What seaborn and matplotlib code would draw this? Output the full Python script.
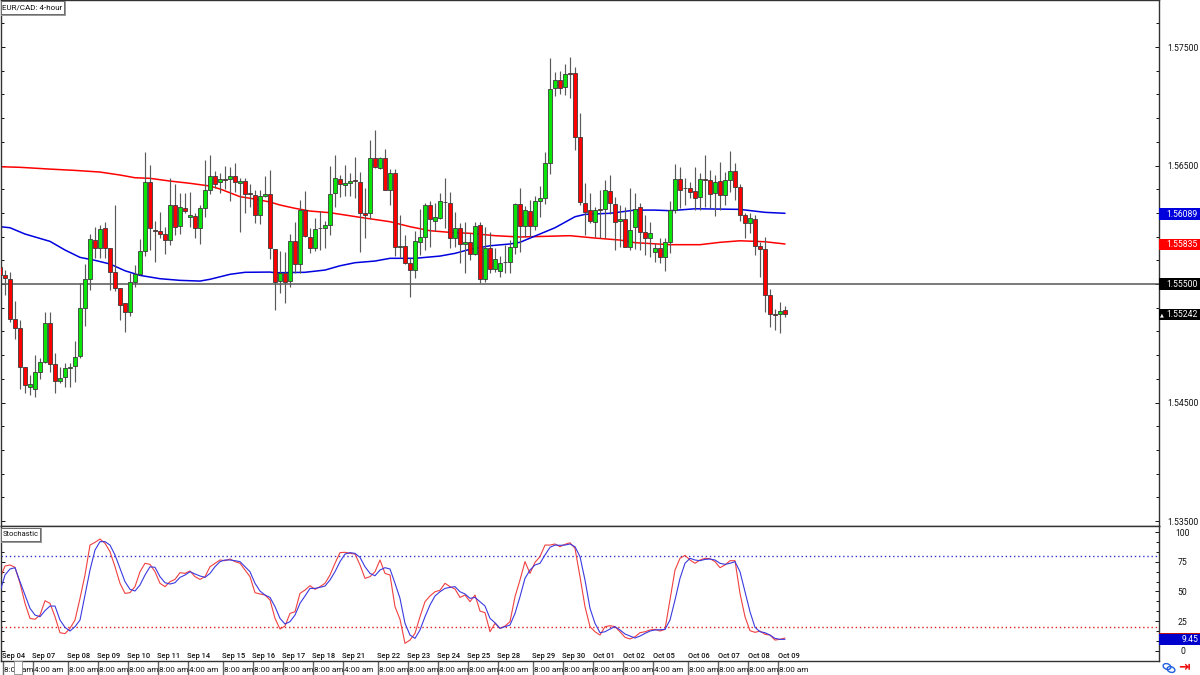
#!/usr/bin/env python3
# EUR/CAD 4-hour candles with two moving averages and a stochastic panel.

import matplotlib.pyplot as plt
import matplotlib.transforms as mtrans
from matplotlib.patches import Ellipse, Rectangle
from matplotlib.ticker import MultipleLocator
import numpy as np
import pandas as pd
import seaborn as sns

# Candles, one per 4-hour bar
opens = [
    1.55641, 1.55576, 1.55545, 1.55202, 1.55126, 1.54802, 1.54634, 1.54611, 1.54760, 1.54845,
    1.55168, 1.54822, 1.54681, 1.54712, 1.54788, 1.54808, 1.54892, 1.55300, 1.55539, 1.55871,
    1.55801, 1.55973, 1.55801, 1.55604, 1.55463, 1.55337, 1.55267, 1.55520, 1.55584, 1.55776,
    1.56364, 1.55956, 1.55947, 1.55919, 1.55871, 1.56167, 1.55989, 1.56139, 1.56063, 1.56077,
    1.55970, 1.56139, 1.56293, 1.56414, 1.56358, 1.56383, 1.56383, 1.56414, 1.56355, 1.56369,
    1.56265, 1.56254, 1.56079, 1.56243, 1.56260, 1.55793, 1.55528, 1.55596, 1.55525, 1.55860,
    1.55669, 1.56124, 1.55899, 1.55801, 1.55975, 1.55975, 1.55998, 1.56265, 1.56386, 1.56335,
    1.56350, 1.56375, 1.56364, 1.56096, 1.56096, 1.56566, 1.56476, 1.56560, 1.56293, 1.56440,
    1.55809, 1.55821, 1.55674, 1.55618, 1.55852, 1.55899, 1.56164, 1.56032, 1.56060, 1.56195,
    1.56184, 1.55885, 1.55975, 1.55838, 1.55857, 1.55753, 1.55995, 1.55539, 1.55801, 1.55624,
    1.55607, 1.55688, 1.55683, 1.55815, 1.56172, 1.55992, 1.56116, 1.55989, 1.56203, 1.56223,
    1.56524, 1.57151, 1.57222, 1.57160, 1.57278, 1.57281, 1.56738, 1.56184, 1.56127, 1.56026,
    1.56133, 1.56133, 1.56285, 1.56178, 1.56029, 1.56046, 1.55815, 1.55984, 1.56147, 1.55942,
    1.55891, 1.55770, 1.55801, 1.55731, 1.55857, 1.56124, 1.56383, 1.56313, 1.56307, 1.56282,
    1.56231, 1.56389, 1.56375, 1.56271, 1.56366, 1.56254, 1.56375, 1.56451, 1.56319, 1.56082,
    1.56012, 1.56049, 1.55821, 1.55793, 1.55404, 1.55247, 1.55244, 1.55278,
]
highs = [
    1.55674, 1.55618, 1.55604, 1.55359, 1.55196, 1.54802, 1.54732, 1.54901, 1.54873, 1.55264,
    1.55264, 1.54915, 1.54802, 1.54831, 1.54836, 1.55019, 1.55506, 1.55666, 1.55919, 1.55984,
    1.55998, 1.56026, 1.55801, 1.56167, 1.55463, 1.55337, 1.55590, 1.55660, 1.55877, 1.56611,
    1.56504, 1.56032, 1.56110, 1.55984, 1.56397, 1.56341, 1.56271, 1.56271, 1.56276, 1.56096,
    1.56167, 1.56546, 1.56589, 1.56454, 1.56440, 1.56496, 1.56490, 1.56524, 1.56392, 1.56392,
    1.56344, 1.56293, 1.56293, 1.56411, 1.56462, 1.55793, 1.55778, 1.55773, 1.55919, 1.56026,
    1.56209, 1.56285, 1.55970, 1.56054, 1.56116, 1.56032, 1.56499, 1.56589, 1.56420, 1.56504,
    1.56434, 1.56575, 1.56448, 1.56313, 1.56715, 1.56800, 1.56575, 1.56636, 1.56468, 1.56468,
    1.56082, 1.55914, 1.55717, 1.55947, 1.56130, 1.56181, 1.56203, 1.56181, 1.56271, 1.56397,
    1.56274, 1.56110, 1.56012, 1.56026, 1.55928, 1.56026, 1.56026, 1.55984, 1.55942, 1.55801,
    1.55739, 1.55829, 1.55871, 1.56186, 1.56307, 1.56161, 1.56209, 1.56245, 1.56327, 1.56617,
    1.57410, 1.57286, 1.57300, 1.57357, 1.57413, 1.57334, 1.56940, 1.56355, 1.56265, 1.56153,
    1.56293, 1.56378, 1.56420, 1.56237, 1.56167, 1.56153, 1.56307, 1.56265, 1.56186, 1.56082,
    1.56020, 1.55843, 1.55885, 1.55885, 1.56203, 1.56513, 1.56490, 1.56392, 1.56364, 1.56490,
    1.56434, 1.56589, 1.56462, 1.56420, 1.56532, 1.56448, 1.56625, 1.56518, 1.56344, 1.56096,
    1.56096, 1.56082, 1.55857, 1.55899, 1.55455, 1.55286, 1.55351, 1.55314,
]
lows = [
    1.55562, 1.55407, 1.55182, 1.55033, 1.54611, 1.54577, 1.54563, 1.54549, 1.54695, 1.54831,
    1.54760, 1.54577, 1.54662, 1.54634, 1.54634, 1.54676, 1.54873, 1.55148, 1.55449, 1.55717,
    1.55717, 1.55717, 1.55449, 1.55444, 1.55196, 1.55098, 1.55233, 1.55477, 1.55576, 1.55736,
    1.55787, 1.55686, 1.55885, 1.55750, 1.55829, 1.55914, 1.55919, 1.56096, 1.55984, 1.55891,
    1.55838, 1.56068, 1.56260, 1.56307, 1.56271, 1.56299, 1.56203, 1.56279, 1.55942, 1.56096,
    1.56153, 1.56018, 1.56006, 1.56237, 1.55708, 1.55281, 1.55427, 1.55342, 1.55477, 1.55590,
    1.55590, 1.55899, 1.55759, 1.55781, 1.55787, 1.55801, 1.55914, 1.56153, 1.56237, 1.56243,
    1.56243, 1.56223, 1.55773, 1.55891, 1.56046, 1.56476, 1.56468, 1.56293, 1.56167, 1.55736,
    1.55717, 1.55669, 1.55393, 1.55548, 1.55745, 1.55787, 1.55815, 1.55950, 1.56046, 1.55970,
    1.55801, 1.55815, 1.55680, 1.55590, 1.55703, 1.55745, 1.55506, 1.55520, 1.55596, 1.55604,
    1.55562, 1.55590, 1.55590, 1.55753, 1.55773, 1.55899, 1.55899, 1.55956, 1.56068, 1.56175,
    1.56428, 1.57087, 1.57103, 1.57095, 1.57067, 1.56631, 1.56167, 1.55914, 1.56012, 1.55894,
    1.55885, 1.55885, 1.56091, 1.55787, 1.55815, 1.55809, 1.55787, 1.55795, 1.55787, 1.55745,
    1.55731, 1.55688, 1.55674, 1.55610, 1.55759, 1.56096, 1.56139, 1.56167, 1.56223, 1.56124,
    1.56124, 1.56153, 1.56139, 1.56074, 1.56124, 1.56167, 1.56279, 1.56209, 1.56032, 1.55885,
    1.55928, 1.55745, 1.55562, 1.55267, 1.55140, 1.55112, 1.55084, 1.55224,
]
closes = [
    1.55576, 1.55548, 1.55202, 1.55131, 1.54802, 1.54648, 1.54653, 1.54760, 1.54839, 1.55168,
    1.54822, 1.54681, 1.54704, 1.54794, 1.54802, 1.54887, 1.55300, 1.55545, 1.55883, 1.55801,
    1.55967, 1.55801, 1.55604, 1.55463, 1.55323, 1.55267, 1.55520, 1.55584, 1.55776, 1.56364,
    1.55970, 1.55950, 1.55919, 1.55871, 1.56167, 1.55984, 1.56147, 1.56119, 1.56082, 1.55970,
    1.56139, 1.56293, 1.56414, 1.56344, 1.56383, 1.56378, 1.56414, 1.56364, 1.56369, 1.56262,
    1.56257, 1.56079, 1.56243, 1.56262, 1.55801, 1.55520, 1.55596, 1.55520, 1.55860, 1.55669,
    1.56124, 1.55905, 1.55801, 1.55967, 1.55970, 1.55998, 1.56260, 1.56392, 1.56341, 1.56350,
    1.56366, 1.56369, 1.56096, 1.56085, 1.56566, 1.56485, 1.56560, 1.56293, 1.56440, 1.55809,
    1.55823, 1.55674, 1.55618, 1.55866, 1.55899, 1.56164, 1.56046, 1.56063, 1.56198, 1.56189,
    1.55885, 1.55973, 1.55835, 1.55854, 1.55753, 1.55992, 1.55539, 1.55801, 1.55624, 1.55708,
    1.55680, 1.55683, 1.55815, 1.56178, 1.55992, 1.56124, 1.55992, 1.56203, 1.56223, 1.56524,
    1.57143, 1.57222, 1.57157, 1.57269, 1.57269, 1.56738, 1.56189, 1.56110, 1.56029, 1.56127,
    1.56127, 1.56290, 1.56184, 1.56026, 1.56046, 1.55815, 1.55953, 1.56133, 1.55942, 1.55891,
    1.55928, 1.55801, 1.55731, 1.55852, 1.56124, 1.56383, 1.56293, 1.56307, 1.56279, 1.56229,
    1.56389, 1.56378, 1.56262, 1.56361, 1.56254, 1.56375, 1.56451, 1.56319, 1.56082, 1.56012,
    1.56054, 1.55823, 1.55793, 1.55404, 1.55244, 1.55241, 1.55275, 1.55244,
]

# Moving averages, read at the bars where their slope changes
red_ma_bars = [
    0, 4, 10, 15, 20, 24, 27, 30, 34, 38, 42, 44, 46, 48, 51, 54, 56, 59, 62, 66,
    72, 78, 82, 86, 90, 94, 99, 104, 114, 119, 124, 127, 134, 140, 144, 148, 153, 157,
]
red_ma = [
    1.56490, 1.56485, 1.56470, 1.56459, 1.56445, 1.56420, 1.56397, 1.56392, 1.56369, 1.56350,
    1.56327, 1.56302, 1.56270, 1.56237, 1.56217, 1.56192, 1.56167, 1.56139, 1.56116, 1.56102,
    1.56063, 1.56026, 1.55984, 1.55950, 1.55936, 1.55928, 1.55908, 1.55897, 1.55908, 1.55888,
    1.55871, 1.55849, 1.55832, 1.55832, 1.55852, 1.55865, 1.55857, 1.55838,
]
blue_ma_bars = [
    0, 2, 5, 10, 13, 16, 19, 22, 25, 28, 32, 36, 40, 42, 46, 49, 54, 55, 61, 65,
    68, 71, 75, 78, 83, 88, 91, 94, 98, 102, 104, 107, 111, 115, 117, 122, 127, 131,
    134, 139, 143, 148, 153, 157,
]
blue_ma = [
    1.55984, 1.55975, 1.55922, 1.55860, 1.55787, 1.55725, 1.55700, 1.55669, 1.55612, 1.55573,
    1.55545, 1.55531, 1.55525, 1.55540, 1.55582, 1.55599, 1.55601, 1.55595, 1.55599, 1.55618,
    1.55654, 1.55680, 1.55694, 1.55717, 1.55717, 1.55736, 1.55759, 1.55793, 1.55823, 1.55838,
    1.55852, 1.55905, 1.55975, 1.56068, 1.56088, 1.56097, 1.56124, 1.56124, 1.56119, 1.56135,
    1.56133, 1.56130, 1.56105, 1.56097,
]

# Stochastic, one value per bar
stoch_k = [
    61.1, 71.5, 72.4, 70.4, 56.9, 40.0, 27.3, 26.5, 30.1, 42.2,
    40.0, 28.7, 15.2, 14.4, 18.9, 25.9, 44.2, 63.9, 89.2, 91.5,
    94.3, 90.7, 83.6, 70.9, 56.9, 48.4, 49.0, 54.1, 66.7, 73.8,
    72.9, 66.7, 56.9, 54.1, 58.3, 60.2, 65.9, 65.3, 67.3, 62.5,
    60.2, 62.5, 70.9, 73.8, 76.6, 76.0, 77.4, 75.2, 73.8, 68.1,
    62.5, 49.0, 47.9, 47.0, 42.8, 27.3, 18.3, 20.8, 31.5, 32.9,
    48.4, 51.2, 54.9, 51.8, 54.1, 56.9, 63.9, 73.8, 82.8, 83.1,
    82.2, 81.6, 72.4, 61.1, 62.5, 66.7, 76.6, 65.3, 63.9, 37.2,
    26.5, 6.2, 9.0, 14.6, 28.7, 41.4, 46.2, 49.8, 51.0, 56.9,
    54.1, 52.1, 45.0, 47.0, 41.4, 47.0, 33.5, 32.1, 16.0, 23.1,
    18.9, 20.8, 24.5, 45.6, 59.7, 75.2, 65.3, 74.6, 79.4, 89.2,
    89.2, 90.1, 87.8, 89.8, 91.2, 86.4, 62.5, 37.2, 20.3, 16.0,
    13.2, 20.3, 21.1, 20.3, 16.0, 11.3, 9.9, 11.8, 15.2, 16.0,
    17.5, 18.0, 16.6, 18.0, 42.8, 68.1, 78.0, 80.5, 76.6, 73.8,
    76.6, 78.0, 77.7, 75.2, 70.1, 72.4, 76.0, 76.0, 48.4, 28.7,
    16.9, 15.5, 16.6, 13.8, 13.2, 9.0, 9.6, 10.7,
]
stoch_d = [
    49.8, 63.9, 69.0, 70.1, 58.3, 47.0, 35.8, 30.1, 28.7, 33.8,
    37.7, 37.7, 25.9, 19.7, 16.6, 20.3, 25.9, 47.0, 68.1, 85.0,
    92.1, 92.1, 89.2, 80.8, 69.5, 58.3, 51.8, 50.4, 55.5, 63.9,
    70.9, 70.4, 62.5, 57.4, 56.3, 57.4, 61.9, 63.9, 66.7, 64.8,
    63.1, 61.9, 65.3, 70.9, 75.2, 76.6, 76.6, 76.0, 75.2, 70.9,
    66.7, 56.9, 50.4, 47.0, 45.0, 37.2, 27.3, 22.5, 24.5, 30.1,
    40.0, 46.2, 52.6, 52.6, 53.5, 54.6, 59.7, 66.7, 75.2, 81.6,
    82.8, 82.2, 78.8, 70.9, 65.3, 63.3, 68.1, 70.1, 69.0, 56.9,
    44.2, 23.1, 13.2, 10.4, 17.5, 28.7, 38.6, 46.2, 49.8, 52.6,
    53.5, 54.1, 49.8, 47.9, 44.2, 45.0, 41.4, 37.7, 27.3, 23.6,
    18.9, 20.3, 21.7, 31.5, 45.6, 61.1, 68.1, 72.4, 73.8, 80.8,
    87.3, 89.2, 89.0, 89.2, 90.1, 87.8, 79.4, 59.7, 35.8, 23.1,
    15.2, 16.0, 18.3, 20.3, 17.5, 14.1, 12.4, 10.7, 12.4, 14.6,
    16.6, 17.5, 17.7, 18.0, 25.9, 42.8, 61.1, 73.8, 78.0, 76.6,
    76.0, 77.1, 77.4, 76.6, 73.8, 72.9, 73.8, 75.2, 66.7, 49.8,
    32.9, 19.7, 16.0, 15.2, 13.2, 10.4, 9.6, 9.6,
]

# Time axis
tick_bars = [
    1, 7, 14, 20, 26, 32, 38, 45, 51, 57, 63, 69, 76,
    82, 88, 94, 100, 107, 113, 119, 125, 131, 138, 144, 150, 156,
]
date_labels = [
    'Sep 04', 'Sep 07', 'Sep 08', 'Sep 09', 'Sep 10', 'Sep 11', 'Sep 14', 'Sep 15', 'Sep 16',
    'Sep 17', 'Sep 18', 'Sep 21', 'Sep 22', 'Sep 23', 'Sep 24', 'Sep 25', 'Sep 28', 'Sep 29',
    'Sep 30', 'Oct 01', 'Oct 02', 'Oct 05', 'Oct 06', 'Oct 07', 'Oct 08', 'Oct 09',
]
time_labels = [
    '8:00 am', '4:00 am', '8:00 am', '8:00 am', '8:00 am', '8:00 am', '4:00 am', '8:00 am',
    '8:00 am', '8:00 am', '8:00 am', '4:00 am', '8:00 am', '8:00 am', '8:00 am', '8:00 am',
    '4:00 am', '8:00 am', '8:00 am', '8:00 am', '8:00 am', '4:00 am', '8:00 am', '8:00 am',
    '8:00 am', '8:00 am',
]

# Axis labels and price tags on the right hand strip
price_ticks = [1.575, 1.565, 1.555, 1.545, 1.535]
stoch_ticks = [100, 75, 50, 25, 0]
level_price = 1.55500
blue_tag = 1.56089
red_tag = 1.55835
last_tag = 1.55242
stoch_tag = 9.45
stoch_tag_red = 10.7
stoch_levels = [80, 20]

W, H = 1200, 675
AX_RIGHT = 1159
PANEL_SPLIT = 526
PANEL_BOTTOM = 661
BAR_PX = 5
GREEN = '#0ae60a'
RED = '#ff0000'
BLUE = '#0000e0'
FONT = 'Roboto'
TEXT = '#111111'

candles = pd.DataFrame({'open': opens, 'high': highs, 'low': lows, 'close': closes})
candles['bar'] = candles.index
candles['color'] = np.where(candles['close'] >= candles['open'], GREEN, RED)

sns.set_theme(style='white')
plt.rcParams['font.family'] = [FONT, 'DejaVu Sans']

fig = plt.figure(figsize=(W / 100, H / 100), dpi=100)
ax = fig.add_axes([1 / W, 1 - PANEL_SPLIT / H, (AX_RIGHT - 1) / W, PANEL_SPLIT / H])
sub = fig.add_axes([1 / W, 1 - PANEL_BOTTOM / H, (AX_RIGHT - 1) / W, (PANEL_BOTTOM - PANEL_SPLIT) / H])

for a in (ax, sub):
    a.set_xlim(0.2, AX_RIGHT / BAR_PX)
    for s in a.spines.values():
        s.set_color('#333333')
        s.set_linewidth(1.0)

# Price panel
ax.axhline(level_price, color='#555555', lw=1.1, zorder=1)
sns.lineplot(x=red_ma_bars, y=red_ma, ax=ax, color=RED, lw=1.1, zorder=2)
sns.lineplot(x=blue_ma_bars, y=blue_ma, ax=ax, color=BLUE, lw=1.1, zorder=2)
ax.vlines(candles['bar'], candles['low'], candles['high'], color='#5a5a5a', lw=0.85, zorder=3)
body_low = candles[['open', 'close']].min(axis=1)
body_size = (candles['open'] - candles['close']).abs()
ax.bar(candles['bar'], body_size, bottom=body_low, width=0.72, color=candles['color'],
       edgecolor='#3a3a3a', linewidth=0.6, zorder=4)
ax.set_xticks([])
ax.set_ylim(1.53458, 1.57897)
ax.set_yticks(price_ticks)
ax.set_yticklabels([f'{p:.5f}' for p in price_ticks])
ax.yaxis.set_minor_locator(MultipleLocator(0.002, offset=0.001))

# Stochastic panel
sub.axhline(stoch_levels[0], color='#3333cc', lw=1.0, ls=(0, (1, 2)), zorder=1)
sub.axhline(stoch_levels[1], color='#e02020', lw=1.0, ls=(0, (1, 2)), zorder=1)
sns.lineplot(x=candles['bar'], y=stoch_k, ax=sub, color='#f04040', lw=0.8, zorder=2)
sns.lineplot(x=candles['bar'], y=stoch_d, ax=sub, color='#3a3ae0', lw=0.8, zorder=3)
sub.set_xlabel('')
sub.set_ylim(-8.7, 105.3)
sub.set_yticks(stoch_ticks)
sub.set_yticklabels([str(v) for v in stoch_ticks])
sub.yaxis.set_minor_locator(MultipleLocator(25 / 3))
sub.set_xticks(np.array(tick_bars) - 0.4)
sub.set_xticklabels([])
sub.tick_params(axis='x', bottom=True, direction='out', length=10, width=1.0, color='#666666')

for a in (ax, sub):
    a.tick_params(axis='y', which='both', left=True, right=True, labelleft=False, labelright=True,
                  direction='in', pad=17, colors=TEXT, labelsize=6.2)
    a.tick_params(axis='y', which='major', length=3, width=0.7)
    a.tick_params(axis='y', which='minor', length=2, width=0.7)
    for lab in a.get_yticklabels():
        lab.set_ha('center')

# Date row inside the panel, time row below it
for pos, date, t in zip(tick_bars, date_labels, time_labels):
    sub.text(pos + 1.8, -4.6, date, fontsize=5.4, ha='center', va='center', color=TEXT,
             fontweight='medium')
    sub.annotate(t, xy=(pos - 0.4, 0), xycoords=sub.get_xaxis_transform(), xytext=(1, -6.5),
                 textcoords='offset points', fontsize=5.9, ha='left', va='center',
                 color=TEXT, annotation_clip=False)


def price_tag(axis, value, height, color, text=None, marker=False):
    # Colored box on the axis strip, centred on the value
    trans = mtrans.blended_transform_factory(fig.transFigure, axis.transData)
    axis.add_patch(Rectangle((AX_RIGHT / W, value - height / 2), (W - AX_RIGHT) / W, height,
                             transform=trans, color=color, clip_on=False, zorder=6, lw=0))
    if text:
        axis.text(1198 / W, value, text, transform=trans, color='white', fontsize=6.2,
                  ha='right', va='center', zorder=7)
    if marker:
        axis.text(1162 / W, value, '\u25b2', transform=trans, color='white', fontsize=3.6,
                  ha='center', va='center', zorder=7, family='DejaVu Sans')


px_price = 1 / 11850
px_stoch = 1 / 1.184
price_tag(ax, blue_tag, 11.5 * px_price, '#0000dd', f'{blue_tag:.5f}')
price_tag(ax, red_tag, 11.5 * px_price, '#ff0000', f'{red_tag:.5f}')
price_tag(ax, level_price, 11.5 * px_price, '#000000', f'{level_price:.5f}')
price_tag(ax, last_tag, 11.5 * px_price, '#000000', f'{last_tag:.5f}', marker=True)
price_tag(sub, stoch_tag_red, 11 * px_stoch, '#c01010')
price_tag(sub, stoch_tag, 11 * px_stoch, '#0000cc', f'{stoch_tag:.2f}')


def name_box(x0, y0, x1, y1, label, size):
    # Small panel caption with a grey shadow on its right and bottom side
    fig.add_artist(Rectangle((x0 / W, 1 - (y1 + 1.5) / H), (x1 - x0 + 1.5) / W, (y1 - y0 + 1.5) / H,
                             transform=fig.transFigure, color='#999999', lw=0, zorder=8))
    fig.add_artist(Rectangle((x0 / W, 1 - y1 / H), (x1 - x0) / W, (y1 - y0) / H,
                             transform=fig.transFigure, facecolor='white', edgecolor='#444444',
                             lw=0.5, zorder=9))
    fig.text((x0 + 1.5) / W, 1 - (y0 + y1) / 2 / H, label, fontsize=size, ha='left', va='center',
             color=TEXT, zorder=10)


name_box(1, 1, 64, 14, 'EUR/CAD: 4-hour', 5.8)
name_box(1, 528, 40, 541, 'Stochastic', 5.5)

# Scroll handle on the time row and the two toolbar icons
fig.add_artist(Rectangle((14 / W, 1 - 674 / H), 8 / W, 13 / H, transform=fig.transFigure,
                         facecolor='white', edgecolor='#888888', lw=0.6, zorder=8))
for cx, cy in [(1167, 666.5), (1171, 669.5)]:
    fig.add_artist(Ellipse((cx, H - cy), 8, 5.5, angle=-20, transform=None, facecolor='none',
                           edgecolor='#2060e0', lw=1.0))
fig.text(1184 / W, 1 - 667.5 / H, '\u21e5', color='#ee1111', fontsize=10, fontweight='bold',
         ha='center', va='center', family='DejaVu Sans')

fig.savefig('out.png', dpi=100, facecolor='white')
